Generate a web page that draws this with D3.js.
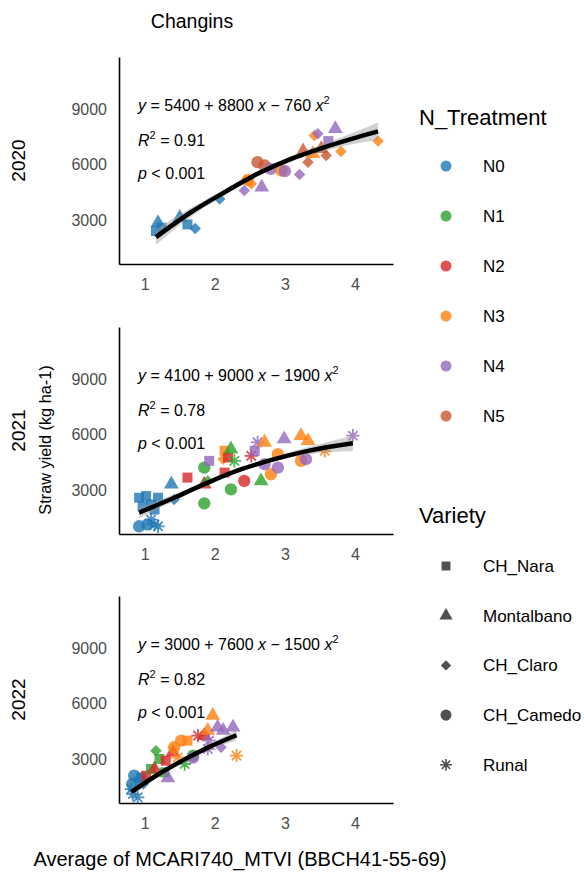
<!DOCTYPE html>
<html>
<head>
<meta charset="utf-8">
<script src="https://cdn.jsdelivr.net/npm/d3@7"></script>
<style>
body { margin: 0; background: #fff; }
svg { font-family: "Liberation Sans", Arial, sans-serif; }
</style>
</head>
<body>
<svg width="584" height="877"></svg>
<script>
const years = ["2020", "2021", "2022"];
const treatments = ["N0", "N1", "N2", "N3", "N4", "N5"];
const treatmentColors = ["#1f77b4", "#2ca02c", "#d62728", "#ff7f0e", "#9467bd", "#c9562f"];
const varieties = ["CH_Nara", "Montalbano", "CH_Claro", "CH_Camedo", "Runal"];
const xTicks = [1, 2, 3, 4];
const yTicks = [3000, 6000, 9000];

// [index value, straw yield, treatment, variety]
const points2020 = [
  [1.16, 2420, "N0", "CH_Nara"], [1.19, 2875, "N0", "Montalbano"], [1.24, 2600, "N0", "CH_Nara"],
  [1.50, 3146, "N0", "Montalbano"], [1.61, 2783, "N0", "CH_Nara"], [1.72, 2566, "N0", "CH_Claro"],
  [2.07, 4150, "N0", "CH_Claro"], [2.42, 4604, "N4", "CH_Claro"], [2.47, 5182, "N3", "CH_Camedo"],
  [2.52, 4966, "N3", "CH_Claro"], [2.61, 6137, "N5", "CH_Camedo"], [2.67, 4787, "N4", "Montalbano"],
  [2.71, 5954, "N5", "CH_Camedo"], [2.80, 5776, "N4", "CH_Camedo"], [2.95, 5684, "N3", "CH_Camedo"],
  [3.00, 5650, "N4", "CH_Camedo"], [3.21, 5468, "N4", "CH_Claro"], [3.26, 6731, "N5", "Montalbano"],
  [3.33, 6137, "N5", "CH_Claro"], [3.40, 6586, "N3", "Montalbano"], [3.42, 7574, "N3", "CH_Claro"],
  [3.47, 7666, "N4", "CH_Claro"], [3.52, 6856, "N5", "Montalbano"], [3.59, 6494, "N5", "CH_Claro"],
  [3.62, 7271, "N4", "CH_Nara"], [3.72, 7936, "N4", "Montalbano"], [3.80, 6710, "N3", "CH_Claro"],
  [4.33, 7271, "N3", "CH_Claro"]
];
const points2021 = [
  [0.92, 2604, "N0", "CH_Nara"], [1.02, 2693, "N0", "CH_Nara"], [1.09, 2241, "N0", "CH_Nara"],
  [0.97, 2151, "N0", "CH_Nara"], [1.19, 2604, "N0", "CH_Nara"], [1.14, 1967, "N0", "CH_Nara"],
  [0.92, 1065, "N0", "CH_Camedo"], [1.04, 1154, "N0", "CH_Camedo"], [1.14, 1154, "N0", "Runal"],
  [1.09, 1425, "N0", "Runal"], [1.19, 1065, "N0", "Runal"], [1.38, 3325, "N0", "Montalbano"],
  [1.42, 2514, "N0", "CH_Claro"], [1.61, 3687, "N2", "CH_Nara"], [1.85, 2300, "N1", "CH_Camedo"],
  [1.85, 4229, "N1", "CH_Camedo"], [1.85, 3325, "N2", "Montalbano"], [1.90, 3506, "N1", "CH_Claro"],
  [1.92, 4590, "N4", "CH_Nara"], [2.12, 4680, "N3", "CH_Claro"], [2.14, 5132, "N3", "CH_Nara"],
  [2.14, 3958, "N2", "CH_Nara"], [2.19, 4771, "N2", "CH_Nara"], [2.23, 3054, "N1", "CH_Camedo"],
  [2.23, 5222, "N1", "Montalbano"], [2.28, 4590, "N1", "Runal"], [2.42, 3506, "N2", "CH_Camedo"],
  [2.52, 4861, "N2", "Runal"], [2.57, 5132, "N4", "CH_Nara"], [2.61, 5583, "N4", "Runal"],
  [2.66, 3506, "N1", "Montalbano"], [2.71, 5583, "N3", "Montalbano"], [2.71, 4409, "N4", "CH_Camedo"],
  [2.80, 3868, "N3", "CH_Camedo"], [2.90, 4951, "N3", "CH_Camedo"], [2.90, 4229, "N4", "CH_Camedo"],
  [2.99, 5764, "N4", "Montalbano"], [3.23, 5945, "N3", "Montalbano"], [3.23, 4590, "N3", "CH_Camedo"],
  [3.30, 4680, "N4", "CH_Camedo"], [3.33, 5674, "N3", "Montalbano"], [3.57, 5132, "N3", "Runal"],
  [3.97, 5945, "N4", "Runal"]
];
const points2022 = [
  [0.82, 1672, "N0", "CH_Camedo"], [0.85, 2120, "N0", "CH_Camedo"], [0.83, 1132, "N0", "Runal"],
  [0.81, 1400, "N0", "Runal"], [0.90, 952, "N0", "Runal"], [0.93, 1852, "N0", "CH_Camedo"],
  [0.95, 2030, "N0", "CH_Nara"], [0.98, 1672, "N0", "CH_Claro"], [1.02, 2120, "N2", "CH_Nara"],
  [1.09, 2480, "N1", "CH_Nara"], [1.14, 2480, "N2", "Montalbano"], [1.16, 3470, "N1", "CH_Claro"],
  [1.21, 3020, "N1", "CH_Nara"], [1.28, 2300, "N1", "CH_Nara"], [1.30, 2930, "N2", "CH_Nara"],
  [1.33, 2000, "N4", "Montalbano"], [1.40, 3380, "N2", "Montalbano"], [1.42, 3650, "N3", "CH_Camedo"],
  [1.47, 3100, "N3", "Runal"], [1.52, 4010, "N3", "CH_Camedo"], [1.57, 2750, "N1", "Runal"],
  [1.61, 4010, "N3", "CH_Nara"], [1.69, 3200, "N1", "CH_Camedo"], [1.69, 3100, "N4", "CH_Camedo"],
  [1.76, 4280, "N2", "Runal"], [1.85, 4280, "N2", "Montalbano"], [1.90, 4550, "N3", "Montalbano"],
  [1.90, 3560, "N4", "Runal"], [1.92, 4010, "N4", "Runal"], [1.97, 5360, "N3", "Montalbano"],
  [2.04, 4730, "N4", "Montalbano"], [2.09, 3650, "N4", "CH_Claro"], [2.12, 4550, "N4", "Montalbano"],
  [2.26, 4730, "N4", "Montalbano"], [2.31, 3200, "N3", "Runal"]
];

// fitted quadratic curve, with ribbon half-width
const fitX2020 = [1.16, 1.66, 2.14, 2.61, 3.09, 3.57, 4.04, 4.33];
const fitY2020 = [2100, 3437, 4517, 5506, 6316, 6947, 7487, 7790];
const fitSe2020 = [420, 240, 150, 140, 150, 200, 330, 480];
const fitX2021 = [0.92, 1.42, 1.90, 2.38, 2.85, 3.33, 3.97];
const fitY2021 = [1800, 2604, 3417, 4138, 4680, 5130, 5540];
const fitSe2021 = [300, 170, 120, 110, 130, 200, 420];
const fitX2022 = [0.81, 1.19, 1.57, 1.90, 2.31];
const fitY2022 = [1250, 2187, 3000, 3632, 4300];
const fitSe2022 = [250, 120, 100, 130, 300];

const eqA = [5400, 4100, 3000];
const eqB = [8800, 9000, 7600];
const eqC = [760, 1900, 1500];
const r2 = ["0.91", "0.78", "0.82"];
const pText = ["0.001", "0.001", "0.001"];

const panels = [
  { pts: points2020, fx: fitX2020, fy: fitY2020, se: fitSe2020 },
  { pts: points2021, fx: fitX2021, fy: fitY2021, se: fitSe2021 },
  { pts: points2022, fx: fitX2022, fy: fitY2022, se: fitSe2022 }
];

const svg = d3.select("svg");
const left = 119, right = 393, panelH = 207;
const panelTop = [57, 327, 596];
const x = d3.scaleLinear().domain([0.633, 4.543]).range([left, right]);
const color = d3.scaleOrdinal(treatments, treatmentColors);

const diamond = {
  draw(ctx, size) {
    const r = Math.sqrt(size / 2);
    ctx.moveTo(0, -r); ctx.lineTo(r, 0); ctx.lineTo(0, r); ctx.lineTo(-r, 0); ctx.closePath();
  }
};
const star8 = {
  draw(ctx, size) {
    const r = Math.sqrt(size) / 2;
    const d = r * Math.SQRT1_2;
    ctx.moveTo(-r, 0); ctx.lineTo(r, 0);
    ctx.moveTo(0, -r); ctx.lineTo(0, r);
    ctx.moveTo(-d, -d); ctx.lineTo(d, d);
    ctx.moveTo(-d, d); ctx.lineTo(d, -d);
  }
};
const shapeType = d3.scaleOrdinal(varieties, [d3.symbolSquare, d3.symbolTriangle, diamond, d3.symbolCircle, star8]);
const shapeSize = d3.scaleOrdinal(varieties, [100, 95, 66, 120, 175]);
const symbol = (v, k = 1) => d3.symbol().type(shapeType(v)).size(shapeSize(v) * k)();

// title
svg.append("text").attr("x", 192).attr("y", 28).attr("text-anchor", "middle")
  .attr("font-size", 19.5).text("Changins");

panels.forEach((p, i) => {
  const top = panelTop[i];
  const y = d3.scaleLinear().domain([650, 11800]).range([top + panelH, top]);
  const g = svg.append("g");

  g.append("g").selectAll("path").data(p.pts).join("path")
    .attr("transform", d => `translate(${x(d[0])},${y(d[1])})`)
    .attr("d", d => symbol(d[3]))
    .attr("fill", d => d[3] === "Runal" ? "none" : color(d[2]))
    .attr("stroke", d => d[3] === "Runal" ? color(d[2]) : "none")
    .attr("stroke-width", 1.8)
    .attr("opacity", 0.8);

  const fit = p.fx.map((v, j) => ({ x: v, y: p.fy[j], se: p.se[j] }));
  g.append("path").datum(fit)
    .attr("fill", "#999").attr("opacity", 0.45)
    .attr("d", d3.area().curve(d3.curveMonotoneX)
      .x(d => x(d.x)).y0(d => y(d.y - d.se)).y1(d => y(d.y + d.se)));
  g.append("path").datum(fit)
    .attr("fill", "none").attr("stroke", "#000").attr("stroke-width", 4.5)
    .attr("d", d3.line().curve(d3.curveMonotoneX).x(d => x(d.x)).y(d => y(d.y)));

  const xAxis = g.append("g").attr("transform", `translate(0,${top + panelH})`)
    .call(d3.axisBottom(x).tickValues(xTicks).tickFormat(d3.format("d")).tickSize(0).tickSizeOuter(0).tickPadding(15));
  const yAxis = g.append("g").attr("transform", `translate(${left},0)`)
    .call(d3.axisLeft(y).tickValues(yTicks).tickFormat(d3.format("d")).tickSize(0).tickSizeOuter(0).tickPadding(12));
  [xAxis, yAxis].forEach(a => {
    a.select(".domain").attr("stroke", "#000").attr("stroke-width", 1.6);
    a.selectAll("text").attr("font-size", 16).attr("fill", "#4d4d4d")
      .attr("font-family", "Liberation Sans, Arial, sans-serif");
  });

  // equation annotations
  const eq = g.append("text").attr("x", 138).attr("y", top + 54).attr("font-size", 16);
  eq.append("tspan").attr("font-style", "italic").text("y");
  eq.append("tspan").text(` = ${eqA[i]} + ${eqB[i]} `);
  eq.append("tspan").attr("font-style", "italic").text("x");
  eq.append("tspan").text(` \u2212 ${eqC[i]} `);
  eq.append("tspan").attr("font-style", "italic").text("x");
  eq.append("tspan").attr("font-size", 11).attr("dy", -7).text("2");

  const rt = g.append("text").attr("x", 138).attr("y", top + 89).attr("font-size", 16);
  rt.append("tspan").attr("font-style", "italic").text("R");
  rt.append("tspan").attr("font-size", 11).attr("dy", -7).text("2");
  rt.append("tspan").attr("dy", 7).text(` = ${r2[i]}`);

  const pt = g.append("text").attr("x", 138).attr("y", top + 122).attr("font-size", 16);
  pt.append("tspan").attr("font-style", "italic").text("p");
  pt.append("tspan").text(` < ${pText[i]}`);

  svg.append("text")
    .attr("transform", `translate(18,${top + panelH / 2}) rotate(-90)`)
    .attr("text-anchor", "middle").attr("dy", "0.35em")
    .attr("font-size", 19).text(years[i]);
});

svg.append("text")
  .attr("transform", "translate(45,440) rotate(-90)")
  .attr("text-anchor", "middle").attr("dy", "0.35em")
  .attr("font-size", 16.3).text("Straw yield (kg ha-1)");

svg.append("text").attr("x", 240).attr("y", 866).attr("text-anchor", "middle")
  .attr("font-size", 20).text("Average of MCARI740_MTVI (BBCH41-55-69)");

// legends
const lg1 = svg.append("g");
lg1.append("text").attr("x", 419).attr("y", 125).attr("font-size", 22).text("N_Treatment");
const items1 = lg1.selectAll("g").data(treatments).join("g")
  .attr("transform", (d, i) => `translate(0,${166 + i * 50})`);
items1.append("path").attr("transform", "translate(446,0)")
  .attr("d", d3.symbol().type(d3.symbolCircle).size(95)())
  .attr("fill", d => color(d)).attr("opacity", 0.8);
items1.append("text").attr("x", 483).attr("dy", "0.35em").attr("font-size", 17).text(d => d);

const lg2 = svg.append("g");
lg2.append("text").attr("x", 419).attr("y", 523).attr("font-size", 22).text("Variety");
const items2 = lg2.selectAll("g").data(varieties).join("g")
  .attr("transform", (d, i) => `translate(0,${566 + i * 49.7})`);
items2.append("path").attr("transform", "translate(446,0)")
  .attr("d", d => symbol(d, 0.8))
  .attr("fill", d => d === "Runal" ? "none" : "#333")
  .attr("stroke", d => d === "Runal" ? "#333" : "none")
  .attr("stroke-width", 1.6).attr("opacity", 0.85);
items2.append("text").attr("x", 483).attr("dy", "0.35em").attr("font-size", 17).text(d => d);
</script>
</body>
</html>
